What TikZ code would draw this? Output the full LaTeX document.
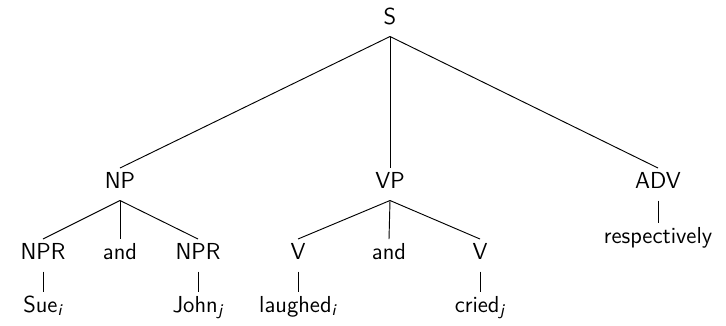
\documentclass[tikz,border=0pt]{standalone}
\usepackage{amsmath}
\usepackage{tikz}
\tikzset{
  cat/.style={font=\sffamily\fontsize{11.1}{13}\selectfont,anchor=base,inner xsep=1pt,
    inner ysep=2.4pt,text height=0.7em,text depth=3.4pt},
  branch/.style={draw=black,line width=0.45pt},
}
% index on a word, set in the sans font
\newcommand{\idx}[1]{$_{\textit{#1}}$}

\begin{document}
\begin{tikzpicture}[x=0.48pt,y=-0.48pt]
        \useasboundingbox (0,0) rectangle (726,325);
        % phrase level
        \node[cat] (s) at (390,24) {S};
        \node[cat] (np) at (120,188) {NP};
        \node[cat] (vp) at (390,188) {VP};
        \node[cat] (adv) at (658,188) {ADV};
        % daughters of NP and VP
        \node[cat] (npr1) at (43,259) {NPR};
        \node[cat] (and1) at (120,259) {and};
        \node[cat] (npr2) at (198,259) {NPR};
        \node[cat] (v1) at (298,259) {V};
        \node[cat] (and2) at (389,259) {and};
        \node[cat] (v2) at (480,259) {V};
        % words
        \node[cat] (sue) at (43,312) {Sue\idx{i}};
        \node[cat] (john) at (198,312) {John\idx{j}};
        \node[cat] (laughed) at (298,312) {laughed\idx{i}};
        \node[cat] (cried) at (480,312) {cried\idx{j}};
        \node[cat] (resp) at (658,243) {respectively};
        \foreach \p/\c in {s/np,s/vp,s/adv,np/npr1,np/and1,np/npr2,npr1/sue,npr2/john,
            vp/v1,vp/and2,vp/v2,v1/laughed,v2/cried,adv/resp}
          \draw[branch] (\p.south) -- (\c.north);
      \end{tikzpicture}
\end{document}
